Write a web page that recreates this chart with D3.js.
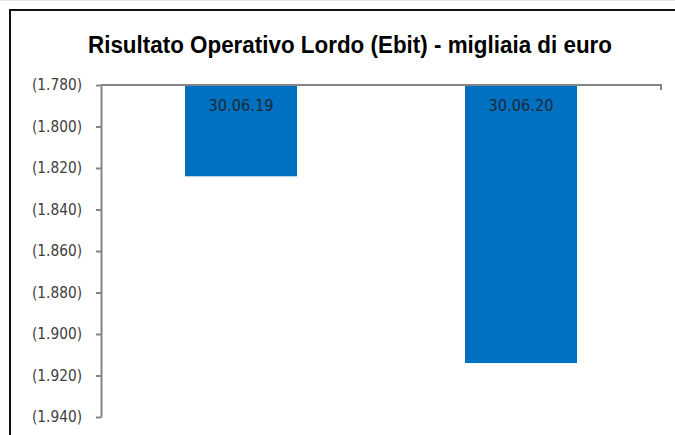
<!DOCTYPE html>
<html>
<head>
<meta charset="utf-8">
<script src="https://cdn.jsdelivr.net/npm/d3@7"></script>
<style>
  body { margin: 0; background: #fff; }
  svg { display: block; }
</style>
</head>
<body>
<svg id="chart" width="675" height="435"></svg>
<script>
// chart data
var categories = ["30.06.19", "30.06.20"];
var values = [-1824, -1914];
var yTicks = [-1780, -1800, -1820, -1840, -1860, -1880, -1900, -1920, -1940];
var title = "Risultato Operativo Lordo (Ebit) - migliaia di euro";

var svg = d3.select("svg#chart");

// frame of the pasted picture
svg.append("line")
   .attr("x1", 0).attr("x2", 675).attr("y1", 0.5).attr("y2", 0.5)
   .attr("stroke", "#e4e4e4").attr("stroke-width", 1);
svg.append("path")
   .attr("d", "M10,435 V10 H675")
   .attr("fill", "none")
   .attr("stroke", "#111")
   .attr("stroke-width", 2);

svg.append("text")
   .attr("x", 350)
   .attr("y", 53)
   .attr("text-anchor", "middle")
   .attr("font-family", "Liberation Sans Narrow, Liberation Sans, sans-serif")
   .attr("font-weight", "bold")
   .attr("font-size", 23)
   .attr("textLength", 524)
   .attr("lengthAdjust", "spacingAndGlyphs")
   .attr("fill", "#000")
   .text(title);

var plotLeft = 101, plotRight = 661, plotTop = 85, plotBottom = 417;

var y = d3.scaleLinear().domain([-1780, -1940]).range([plotTop, plotBottom]);
var x = d3.scaleBand().domain(categories).range([plotLeft, plotRight])
          .paddingInner(0.6).paddingOuter(0.3);

var fmt = function (v) {
  var s = d3.format(",")(Math.abs(v)).replace(/,/g, ".");
  return v < 0 ? "(" + s + ")" : s;
};

// bars hang from the top axis
svg.append("g").selectAll("rect")
   .data(values)
   .enter().append("rect")
   .attr("x", function (d, i) { return x(categories[i]); })
   .attr("y", y(-1780))
   .attr("width", x.bandwidth())
   .attr("height", function (d) { return y(d) - y(-1780); })
   .attr("fill", "#0070c0");

svg.append("g").selectAll("text")
   .data(categories)
   .enter().append("text")
   .attr("x", function (d) { return x(d) + x.bandwidth() / 2; })
   .attr("y", y(-1780) + 26)
   .attr("text-anchor", "middle")
   .attr("font-family", "DejaVu Sans, sans-serif")
   .attr("font-size", 15)
   .attr("textLength", 65)
   .attr("lengthAdjust", "spacingAndGlyphs")
   .attr("fill", "#1c2b3a")
   .text(function (d) { return d; });

// y axis
var yAxis = svg.append("g")
   .attr("transform", "translate(" + plotLeft + ",0)")
   .call(d3.axisLeft(y).tickValues(yTicks).tickFormat(fmt).tickSize(5).tickSizeOuter(0).tickPadding(14));
yAxis.select(".domain").attr("stroke", "#868686").attr("stroke-width", 2);
yAxis.selectAll(".tick line").attr("stroke", "#868686").attr("stroke-width", 2);
yAxis.selectAll(".tick text")
   .attr("font-family", "DejaVu Sans, sans-serif")
   .attr("font-size", 15)
   .attr("textLength", 50)
   .attr("lengthAdjust", "spacingAndGlyphs")
   .attr("fill", "#404040");

// category axis along the top
svg.append("path")
   .attr("d", "M" + plotLeft + "," + y(-1780) + " H" + plotRight + " V" + (y(-1780) + 5))
   .attr("fill", "none")
   .attr("stroke", "#868686")
   .attr("stroke-width", 2);
</script>
</body>
</html>
